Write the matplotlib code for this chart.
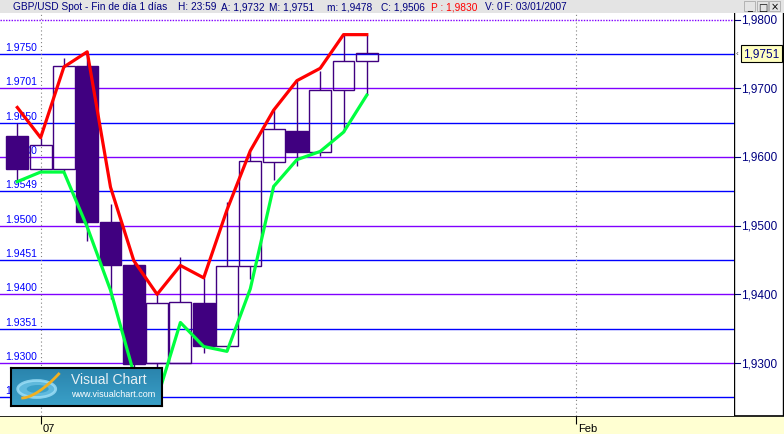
import numpy as np
import matplotlib
matplotlib.use("Agg")
import matplotlib.pyplot as plt
from matplotlib.patches import Rectangle, Ellipse
from matplotlib.colors import LinearSegmentedColormap

plt.rcParams['font.family'] = ['Liberation Sans', 'DejaVu Sans']

# daily GBP/USD bars, 29/12/2006 .. 19/01/2007 (bar index 0..15)
opens  = [1.9631, 1.9582, 1.9582, 1.9733, 1.9506, 1.9443, 1.9300, 1.9300,
          1.9387, 1.9325, 1.9441, 1.9592, 1.9638, 1.9607, 1.9697, 1.9739]
highs  = [1.9650, 1.9628, 1.9744, 1.9751, 1.9532, 1.9445, 1.9400, 1.9455,
          1.9424, 1.9535, 1.9607, 1.9668, 1.9711, 1.9725, 1.9778, 1.9778]
lows   = [1.9567, 1.9580, 1.9580, 1.9478, 1.9393, 1.9280, 1.9280, 1.9300,
          1.9314, 1.9320, 1.9423, 1.9567, 1.9587, 1.9601, 1.9636, 1.9690]
closes = [1.9582, 1.9617, 1.9733, 1.9506, 1.9443, 1.9298, 1.9387, 1.9389,
          1.9325, 1.9441, 1.9594, 1.9640, 1.9607, 1.9697, 1.9739, 1.9751]
upper  = [1.9672, 1.9628, 1.9731, 1.9753, 1.9556, 1.9449, 1.9400, 1.9442,
          1.9424, 1.9523, 1.9609, 1.9668, 1.9711, 1.9729, 1.9778, 1.9778]
lower  = [1.9564, 1.9578, 1.9578, 1.9498, 1.9406, 1.9285, 1.9248, 1.9359,
          1.9324, 1.9317, 1.9408, 1.9557, 1.9596, 1.9608, 1.9636, 1.9690]

levels = [1.9750, 1.9700, 1.9650, 1.9600, 1.9550, 1.9500, 1.9450, 1.9400,
          1.9350, 1.9300, 1.9250]
level_labels = ["1.9750", "1.9701", "1.9650", "1.9600", "1.9549", "1.9500",
                "1.9451", "1.9400", "1.9351", "1.9300", "1.9250"]
right_ticks = [1.98, 1.97, 1.96, 1.95, 1.94, 1.93]
right_labels = ["1,9800", "1,9700", "1,9600", "1,9500", "1,9400", "1,9300"]
x_ticks = [1, 24]
x_labels = ["07", "Feb"]

header = [("GBP/USD Spot - Fin de día 1 días", 13, '#000080'),
          ("H: 23:59", 178, '#000080'), ("A: 1,9732", 221, '#000080'),
          ("M: 1,9751", 269, '#000080'), ("m: 1,9478", 327, '#000080'),
          ("C: 1,9506", 381, '#000080'), ("P : 1,9830", 431, '#FF0000'),
          ("V: 0", 485, '#000080'), ("F: 03/01/2007", 504, '#000080')]

W, H = 784, 435
BLUE, PURPLE, INDIGO, NAVY = '#0000FF', '#8000FF', '#400080', '#000080'


def px_rect(x0, y0, x1, y1):
    return [x0 / W, 1 - y1 / H, (x1 - x0) / W, (y1 - y0) / H]


fig = plt.figure(figsize=(W / 100, H / 100), dpi=100)
fig.patch.set_facecolor('white')

ylim = (1.92229, 1.98095)

# main price panel
ax = fig.add_axes(px_rect(0, 14, 734, 417))
ax.set_zorder(2)
ax.set_xlim(-0.743, 30.76)
ax.set_ylim(*ylim)
for s in ax.spines.values():
    s.set_visible(False)
ax.set_yticks([])
ax.set_xticks(x_ticks)
ax.set_xticklabels([])
ax.tick_params(axis='x', direction='out', length=5.8, width=0.8, color='black')
for t, lbl in zip(x_ticks, x_labels):
    ax.annotate(lbl, xy=(t, 0), xycoords=('data', 'axes fraction'),
                xytext=(2, -7), textcoords='offset pixels', ha='left', va='top',
                fontsize=8, color='black', annotation_clip=False)

ax.axhline(1.98, color=PURPLE, lw=1, ls=(0, (1, 1)), zorder=1)
for i, (lv, lbl) in enumerate(zip(levels, level_labels)):
    ax.axhline(lv, color=BLUE if i % 2 == 0 else PURPLE, lw=1, zorder=1)
    ax.annotate(lbl, xy=(0, lv), xycoords=('axes fraction', 'data'),
                xytext=(5, 4), textcoords='offset pixels', ha='left',
                va='baseline', fontsize=7.5, color=BLUE, zorder=1.5)
for t in x_ticks:
    ax.axvline(t, color='#808080', lw=0.8, ls=(0, (1, 2.5)), zorder=1.2)

for i in range(len(opens)):
    o, h, l, c = opens[i], highs[i], lows[i], closes[i]
    top, bot = max(o, c), min(o, c)
    ax.vlines(i, top, h, color=INDIGO, lw=1, zorder=2)
    ax.vlines(i, l, bot, color=INDIGO, lw=1, zorder=2)
    filled = c < o
    ax.add_patch(Rectangle((i - 0.47, bot), 0.94, top - bot, fill=filled,
                           facecolor=INDIGO, edgecolor=INDIGO, lw=1, zorder=2))

x = np.arange(len(opens))
ax.plot(x, upper, color='#FF0000', lw=2.3, zorder=3)
ax.plot(x, lower, color='#00FF40', lw=2.3, zorder=3)

# right price scale
axr = fig.add_axes(px_rect(734, 14, 783.5, 417))
axr.set_xlim(0, 1)
axr.set_ylim(*ylim)
axr.set_xticks([])
axr.set_yticks([])
axr.spines['top'].set_visible(False)
axr.spines['bottom'].set_visible(False)
for s in ('left', 'right'):
    axr.spines[s].set_color('black')
    axr.spines[s].set_linewidth(1)
for v, lbl in zip(right_ticks, right_labels):
    axr.plot([0, 0.12], [v, v], color=NAVY, lw=0.8)
    axr.text(0.14, v, lbl, va='center', ha='left', fontsize=8.5, color=NAVY)
axr.text(0.19, closes[-1], "1,9751", va='center', ha='left', fontsize=8.5,
         color=NAVY, bbox=dict(boxstyle='square,pad=0.2', fc='#FFFFC0',
                               ec='black', lw=0.8))
axr.text(0.03, closes[-1], "‹", va='center', ha='left', fontsize=6, color='#404040')

# bottom date band
axb = fig.add_axes(px_rect(0, 417, 784, 435))
axb.set_zorder(1)
axb.set_facecolor('#FFFFD2')
axb.set_xticks([])
axb.set_yticks([])
for s in ('left', 'right', 'bottom'):
    axb.spines[s].set_visible(False)
axb.spines['top'].set_color('black')
axb.spines['top'].set_linewidth(1.2)

# header bar
axh = fig.add_axes(px_rect(0, 0, 784, 14))
axh.set_facecolor('#E4E4E4')
axh.set_xlim(0, W)
axh.set_ylim(14, 0)
axh.set_xticks([])
axh.set_yticks([])
for s in axh.spines.values():
    s.set_visible(False)
for txt, xp, col in header:
    axh.text(xp, 7.5, txt, va='center', ha='left', fontsize=7.3, color=col)
for xp, sym in zip([744, 757, 769], ["_", "□", "×"]):
    axh.add_patch(Rectangle((xp, 2), 11, 10, fc='#E4E4E4', ec='#A0A0A0', lw=0.5))
    axh.text(xp + 5.5, 7.5, sym, va='center', ha='center', fontsize=7,
             color='black', family='DejaVu Sans')

# Visual Chart logo
axl = fig.add_axes(px_rect(10.7, 369, 161.7, 406.7))
axl.set_zorder(5)
axl.set_xlim(0, 151)
axl.set_ylim(37.7, 0)
axl.set_xticks([])
axl.set_yticks([])
for s in axl.spines.values():
    s.set_color('black')
    s.set_linewidth(1.5)
cmap = LinearSegmentedColormap.from_list('logo', ['#2a84ad', '#3aa0c8'])
axl.imshow(np.linspace(0, 1, 50).reshape(-1, 1), cmap=cmap, aspect='auto',
           extent=(0, 151, 37.7, 0))
axl.add_patch(Ellipse((26, 21), 38, 17, fc='#6cc4e6', ec='#9fe0f8', lw=2, alpha=0.8))
axl.add_patch(Ellipse((27, 21), 22, 8, fc='#3aa0c8', ec='none'))
sw = np.linspace(0, 1, 30)
axl.plot(12 + 36 * sw, 30 - 24 * sw ** 1.6, color='#f0b020', lw=2)
axl.text(60, 11.5, "Visual Chart", va='center', ha='left', fontsize=10,
         color='#E8F0F4')
axl.text(60, 26, "www.visualchart.com", va='center', ha='left', fontsize=6.5,
         color='white')

fig.savefig("out.png", dpi=100)
